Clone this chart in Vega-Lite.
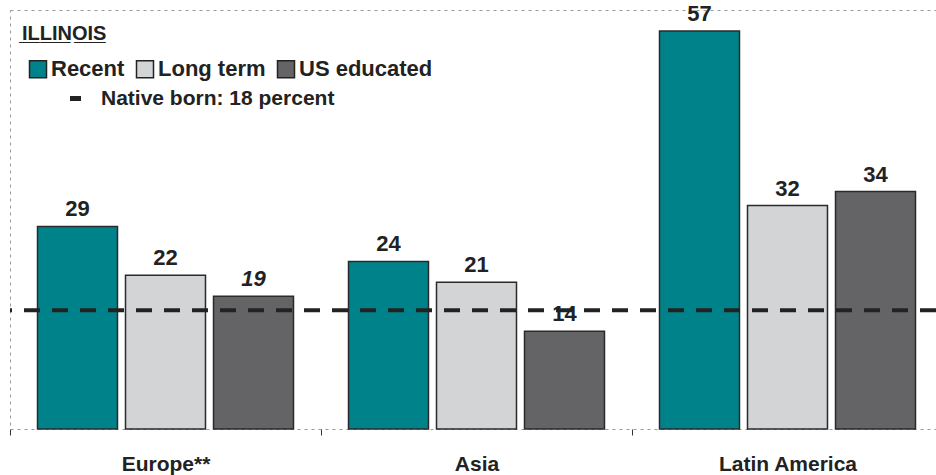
{
  "$schema": "https://vega.github.io/schema/vega-lite/v6.json",
  "width": 926,
  "height": 419,
  "autosize": {"type": "none"},
  "padding": {"left": 10, "top": 10, "right": 0, "bottom": 46},
  "background": "white",
  "config": {
    "font": "Liberation Sans",
    "view": {"stroke": "#9a9a9a", "strokeDash": [3, 4], "strokeWidth": 1}
  },
  "title": {
    "text": "I̲L̲L̲I̲N̲O̲I̲S̲",
    "anchor": "start",
    "frame": "group",
    "offset": -41,
    "dx": 12,
    "fontSize": 20,
    "fontWeight": "bold",
    "color": "#222222",
    "font": "Liberation Sans"
  },
  "data": {
    "values": [
      {"region": "Europe**", "group": "Recent", "value": 29},
      {"region": "Europe**", "group": "Long term", "value": 22},
      {"region": "Europe**", "group": "US educated", "value": 19},
      {"region": "Asia", "group": "Recent", "value": 24},
      {"region": "Asia", "group": "Long term", "value": 21},
      {"region": "Asia", "group": "US educated", "value": 14},
      {"region": "Latin America", "group": "Recent", "value": 57},
      {"region": "Latin America", "group": "Long term", "value": 32},
      {"region": "Latin America", "group": "US educated", "value": 34}
    ]
  },
  "encoding": {
    "x": {
      "field": "region",
      "type": "nominal",
      "sort": ["Europe**", "Asia", "Latin America"],
      "scale": {"range": [0, 933], "paddingInner": 0, "paddingOuter": 0},
      "axis": {
        "title": null,
        "labelAngle": 0,
        "labelFont": "Liberation Sans",
        "labelFontSize": 21,
        "labelFontWeight": "bold",
        "labelColor": "#222222",
        "labelPadding": 18,
        "domain": false,
        "tickBand": "extent",
        "tickColor": "#333333",
        "tickSize": 6,
        "tickWidth": 1
      }
    },
    "xOffset": {
      "field": "group",
      "type": "nominal",
      "sort": ["Recent", "Long term", "US educated"],
      "scale": {"paddingInner": 0.091, "paddingOuter": 0.3125}
    },
    "y": {
      "field": "value",
      "type": "quantitative",
      "scale": {"domain": [0, 60], "nice": false},
      "axis": null
    }
  },
  "layer": [
    {
      "mark": {"type": "bar", "stroke": "#2a2a2a", "strokeWidth": 1.5},
      "encoding": {
        "fill": {
          "field": "group",
          "type": "nominal",
          "sort": ["Recent", "Long term", "US educated"],
          "scale": {"domain": ["Recent", "Long term", "US educated"], "range": ["#00828A", "#D3D4D6", "#646466"]},
          "legend": {
            "orient": "none",
            "legendX": 17,
            "legendY": 48,
            "direction": "horizontal",
            "title": null,
            "padding": 0,
            "symbolType": "square",
            "symbolSize": 289,
            "symbolStrokeColor": "#222222",
            "symbolStrokeWidth": 1.5,
            "labelFont": "Liberation Sans",
            "labelFontSize": 22,
            "labelFontWeight": "bold",
            "labelColor": "#222222",
            "labelOffset": 2,
            "labelLimit": 400,
            "columnPadding": 8
          }
        }
      }
    },
    {
      "transform": [{"filter": "datum.value != 19"}],
      "mark": {"type": "text", "fontSize": 22, "fontWeight": "bold", "color": "#222222", "baseline": "alphabetic", "dy": -10, "font": "Liberation Sans"},
      "encoding": {"text": {"field": "value", "type": "quantitative"}}
    },
    {
      "transform": [{"filter": "datum.value == 19"}],
      "mark": {"type": "text", "fontSize": 22, "fontWeight": "bold", "fontStyle": "italic", "color": "#222222", "baseline": "alphabetic", "dy": -10, "font": "Liberation Sans"},
      "encoding": {"text": {"field": "value", "type": "quantitative"}}
    },
    {
      "data": {"values": [{"label": "Native born: 18 percent", "native": 17}]},
      "mark": {"type": "rule", "strokeWidth": 4, "strokeDash": [16, 12]},
      "encoding": {
        "x": null,
        "xOffset": null,
        "y": {"field": "native", "type": "quantitative"},
        "stroke": {
          "field": "label",
          "type": "nominal",
          "scale": {"range": ["#222222"]},
          "legend": {
            "orient": "none",
            "legendX": 55,
            "legendY": 78,
            "title": null,
            "padding": 0,
            "symbolType": "stroke",
            "symbolSize": 121,
            "symbolStrokeWidth": 5,
            "symbolDash": [],
            "labelFont": "Liberation Sans",
            "labelFontSize": 21,
            "labelFontWeight": "bold",
            "labelColor": "#222222",
            "labelOffset": 15,
            "labelLimit": 400
          }
        }
      }
    }
  ]
}
